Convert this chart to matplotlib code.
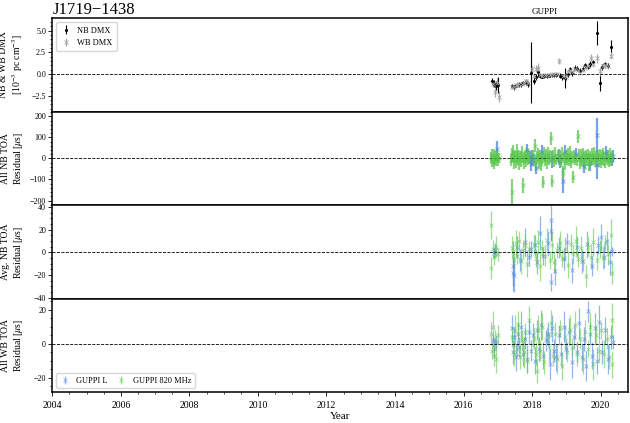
import numpy as np
import matplotlib
matplotlib.use('Agg')
import matplotlib.pyplot as plt
from matplotlib.ticker import MultipleLocator, AutoMinorLocator

plt.rcParams['font.family'] = ['Liberation Serif', 'DejaVu Serif']
plt.rcParams['mathtext.fontset'] = 'stix'

PSR = 'J1719\u22121438'

# --- DMX (1e-3 pc cm^-3) ---
nb_dmx_yr = [2016.84, 2016.89, 2016.95, 2017.01, 2017.41, 2017.46, 2017.51, 2017.56,
             2017.62, 2017.68, 2017.74, 2017.81, 2017.88, 2017.98, 2018.05, 2018.11,
             2018.16, 2018.22, 2018.29, 2018.36, 2018.43, 2018.50, 2018.57, 2018.64,
             2018.71, 2018.80, 2018.88, 2018.97, 2019.04, 2019.10, 2019.17, 2019.25,
             2019.32, 2019.40, 2019.48, 2019.55, 2019.62, 2019.70, 2019.77, 2019.88,
             2019.98, 2020.05, 2020.13, 2020.20, 2020.30]
nb_dmx = [-0.8, -1.1, -1.35, -1.25, -1.40, -1.55, -1.35, -1.30,
          -1.20, -1.20, -1.05, -0.95, -1.15, 0.15, -0.75, -0.35,
          0.2, -0.25, -0.3, -0.25, -0.25, -0.2, -0.15, -0.1,
          -0.1, -0.2, -0.35, -0.45, 0.05, 0.55, 0.1, 0.75,
          0.6, 0.35, 0.6, 1.0, 0.85, 1.15, 1.35, 4.7,
          -1.0, 0.8, 1.1, 0.95, 3.15]
nb_dmx_err = [0.35, 0.45, 0.55, 0.9, 0.25, 0.25, 0.25, 0.25,
              0.25, 0.25, 0.25, 0.35, 0.35, 3.5, 0.35, 0.35,
              0.6, 0.25, 0.2, 0.2, 0.2, 0.2, 0.2, 0.2,
              0.25, 0.3, 0.3, 1.2, 0.4, 0.3, 0.3, 0.3,
              0.3, 0.3, 0.3, 0.3, 0.3, 0.3, 0.3, 1.4,
              1.0, 0.3, 0.3, 0.3, 0.8]

wb_dmx_yr = [2016.85, 2016.91, 2016.97, 2017.02, 2017.42, 2017.47, 2017.52, 2017.57,
             2017.63, 2017.69, 2017.75, 2017.82, 2017.89, 2017.99, 2018.06, 2018.12,
             2018.17, 2018.23, 2018.30, 2018.37, 2018.44, 2018.51, 2018.58, 2018.65,
             2018.72, 2018.79, 2018.89, 2018.98, 2019.05, 2019.11, 2019.18, 2019.26,
             2019.33, 2019.41, 2019.49, 2019.56, 2019.63, 2019.71, 2019.78, 2019.89,
             2019.99, 2020.06, 2020.14, 2020.21, 2020.31]
wb_dmx = [-1.1, -2.1, -1.0, -2.6, -1.45, -1.5, -1.3, -1.25,
          -1.15, -1.15, -1.0, -0.85, -1.0, 0.55, -0.2, 0.6,
          0.75, -0.1, -0.2, -0.15, -0.15, -0.1, -0.05, -0.05,
          0.0, 1.5, -0.25, -0.3, 0.2, 0.45, 0.25, 0.6,
          0.5, 0.15, 0.5, 0.8, 0.95, 1.9, 1.1, 1.8,
          0.3, 0.95, 1.0, 0.9, 2.1]
wb_dmx_err = [0.4, 0.5, 0.5, 0.6, 0.2, 0.2, 0.2, 0.2,
              0.2, 0.2, 0.2, 0.3, 0.3, 0.5, 0.3, 0.4,
              0.5, 0.2, 0.2, 0.2, 0.2, 0.2, 0.2, 0.2,
              0.2, 0.4, 0.3, 0.5, 0.3, 0.3, 0.3, 0.3,
              0.3, 0.3, 0.3, 0.3, 0.3, 0.4, 0.3, 0.5,
              0.5, 0.3, 0.3, 0.3, 0.4]

# --- all NB TOA residuals (us) ---
nb_820_yr = [2016.80, 2016.82, 2016.84, 2016.86, 2016.88, 2016.90, 2016.92, 2016.95, 2016.98, 2017.01, 2017.04,
             2017.38, 2017.40, 2017.42, 2017.45, 2017.47, 2017.50, 2017.52, 2017.55, 2017.57, 2017.60, 2017.62,
             2017.65, 2017.67, 2017.70, 2017.72, 2017.75, 2017.77, 2017.80, 2017.82, 2017.85, 2017.88, 2017.91,
             2018.02, 2018.05, 2018.08, 2018.11, 2018.14, 2018.17, 2018.20, 2018.23, 2018.26, 2018.29, 2018.32,
             2018.35, 2018.38, 2018.41, 2018.44, 2018.47, 2018.50, 2018.53, 2018.56, 2018.59, 2018.62, 2018.65,
             2018.68, 2018.71, 2018.74,
             2018.80, 2018.83, 2018.86, 2018.89, 2018.92, 2018.95, 2018.98, 2019.01, 2019.04, 2019.07, 2019.10,
             2019.13, 2019.16, 2019.19, 2019.22, 2019.25,
             2019.30, 2019.33, 2019.36, 2019.39, 2019.42, 2019.45, 2019.48, 2019.51, 2019.54, 2019.57, 2019.60,
             2019.63, 2019.66, 2019.69, 2019.72, 2019.75, 2019.78, 2019.81, 2019.84, 2019.87,
             2019.93, 2019.96, 2019.99, 2020.02, 2020.05, 2020.08, 2020.11, 2020.14, 2020.17, 2020.20, 2020.23,
             2020.26, 2020.29, 2020.32]
nb_820 = [5, -12, 18, -3, 10, -20, 8, -6, 14, -9, 3,
          -8, -160, 15, 22, -5, 6, -14, 30, -5, 12, -22,
          9, -3, 18, -128, 4, -18, 11, -7, 25, -2, 8,
          10, -5, 60, -18, 7, 20, -10, 14, -25, 3, -112,
          17, -8, 12, -15, 25, -3, 9, 95, -108, 5, -12,
          18, -6, 11,
          8, -14, 20, -67, 5, -20, 12, -4, 16, -9, 22,
          -16, 6, -88, 10, -2,
          -6, 105, 14, -20, 9, -11, 24, 3, -17, 12, -4,
          19, -24, 7, -9, 15, -2, 21, -13, 5,
          12, -8, 18, -15, 6, 22, -3, -20, 10, 4, -12,
          16, -6, 8]
nb_820_err = [25, 30, 28, 22, 35, 30, 25, 28, 32, 26, 24,
              30, 60, 35, 40, 45, 28, 32, 38, 26, 30, 34,
              28, 36, 40, 35, 26, 33, 29, 35, 31, 27, 30,
              28, 32, 30, 35, 26, 30, 38, 28, 33, 29, 30,
              36, 27, 31, 34, 30, 28, 32, 30, 30, 33, 29,
              35, 27, 30,
              30, 28, 34, 30, 27, 35, 30, 29, 33, 28, 36,
              30, 27, 30, 32, 29,
              29, 30, 33, 28, 35, 30, 27, 32, 36, 29, 31,
              28, 34, 30, 27, 33, 29, 35, 30, 28,
              30, 34, 28, 31, 36, 29, 33, 27, 30, 35, 28,
              32, 30, 26]

nb_L_yr = [2016.97, 2017.93, 2017.96, 2017.99, 2018.02, 2018.30, 2018.58, 2018.77, 2018.80, 2018.89,
           2019.27, 2019.50, 2019.88, 2019.90, 2020.33, 2020.36, 2017.85, 2018.10, 2018.95, 2019.70, 2020.15]
nb_L = [45, 5, -25, 12, -8, 30, -5, 10, -15, -105,
        20, -35, 112, -30, -8, 10, 40, -45, 30, -20, 25]
nb_L_err = [40, 30, 35, 30, 28, 35, 40, 35, 30, 60,
            30, 35, 80, 70, 30, 28, 30, 30, 35, 40, 35]

# --- epoch-averaged NB residuals (us) ---
avg_820_yr = [2016.80, 2016.81, 2016.85, 2016.90, 2016.95, 2017.00,
              2017.42, 2017.47, 2017.52, 2017.57, 2017.62, 2017.68, 2017.74, 2017.80, 2017.86, 2017.92,
              2018.05, 2018.11, 2018.17, 2018.23, 2018.30, 2018.37, 2018.44, 2018.51, 2018.58, 2018.65, 2018.72,
              2018.80, 2018.88, 2018.97,
              2019.05, 2019.12, 2019.19, 2019.27, 2019.34, 2019.42, 2019.49, 2019.56, 2019.63, 2019.71, 2019.79,
              2019.88, 2019.98, 2020.06, 2020.14, 2020.22, 2020.31, 2020.32]
avg_820 = [24, -14, 3, -4, 5, -2,
           4, -6, 8, -3, 10, -8, 2, 6, -10, 3,
           7, -5, 9, -12, 4, -3, 11, -7, 6, -9, 2,
           8, -5, 3,
           -11, 7, -2, 10, -6, 4, -8, -21, 5, -4, 9,
           -7, 3, -5, 8, -2, 15, -18]
avg_820_err = [12, 10, 8, 7, 9, 6,
               10, 8, 12, 7, 9, 11, 8, 10, 12, 7,
               9, 8, 11, 13, 7, 9, 10, 8, 12, 9, 7,
               11, 8, 10,
               12, 9, 8, 13, 7, 10, 9, 10, 8, 11, 12,
               9, 8, 10, 7, 9, 14, 10]

avg_L_yr = [2016.88, 2016.93,
            2017.43, 2017.44, 2017.48, 2017.55, 2017.65, 2017.78, 2017.90, 2017.97,
            2018.08, 2018.15, 2018.23, 2018.33, 2018.47, 2018.54, 2018.55, 2018.56, 2018.68, 2018.77, 2018.92,
            2019.01, 2019.15, 2019.30, 2019.45, 2019.60, 2019.75, 2019.92,
            2020.00, 2020.10, 2020.18, 2020.26, 2020.34]
avg_L = [0, 2,
         -12, -18, -20, 5, -7, 9, -4, 3,
         6, -9, 17, -3, 8, 28, 19, -26, -17, 4, -6,
         9, -16, 5, -8, 7, -12, 6,
         13, -4, 10, -9, 1]
avg_L_err = [5, 6,
             22, 12, 15, 9, 10, 12, 8, 7,
             9, 10, 15, 8, 11, 18, 8, 8, 12, 9, 10,
             8, 11, 9, 10, 12, 9, 8,
             12, 10, 9, 11, 4]

# --- all WB residuals (us) ---
wb_820_yr = [2016.80, 2016.82, 2016.85, 2016.88, 2016.92, 2016.96, 2017.00,
             2017.42, 2017.46, 2017.50, 2017.55, 2017.60, 2017.65, 2017.70, 2017.75, 2017.80, 2017.86, 2017.92,
             2018.05, 2018.10, 2018.13, 2018.18, 2018.24, 2018.30, 2018.36, 2018.42, 2018.48, 2018.54, 2018.60,
             2018.66, 2018.72, 2018.80, 2018.87, 2018.95,
             2019.03, 2019.10, 2019.17, 2019.25, 2019.32, 2019.40, 2019.48, 2019.55, 2019.63, 2019.70, 2019.78,
             2019.86, 2019.94, 2020.02, 2020.10, 2020.18, 2020.25, 2020.32, 2020.33]
wb_820 = [6, -4, 10, -7, 3, -9, 5,
          4, -6, 8, -3, 11, -8, 2, -5, 7, -10, 14,
          3, -6, -16, 8, -4, 10, -11, 5, -2, 12, -7,
          6, -9, 9, -13, 4,
          -5, 8, -2, 11, -6, 3, -9, 7, -3, 10, -12,
          5, -4, 8, -6, 3, -8, 14, -12]
wb_820_err = [7, 5, 9, 6, 5, 8, 6,
              6, 7, 9, 5, 8, 7, 6, 9, 5, 7, 8,
              6, 7, 7, 9, 6, 8, 7, 5, 9, 8, 6,
              7, 9, 5, 8, 7,
              6, 9, 5, 8, 7, 6, 9, 7, 5, 8, 9,
              6, 7, 5, 8, 6, 7, 10, 8]

wb_L_yr = [2016.86, 2016.90, 2016.94,
           2017.40, 2017.44, 2017.48, 2017.53, 2017.58, 2017.63, 2017.68, 2017.73, 2017.78, 2017.84, 2017.90, 2017.96,
           2018.03, 2018.08, 2018.15, 2018.21, 2018.27, 2018.33, 2018.39, 2018.45, 2018.51, 2018.57, 2018.63,
           2018.71, 2018.78, 2018.85, 2018.92,
           2019.00, 2019.08, 2019.15, 2019.22, 2019.30, 2019.38, 2019.45, 2019.52, 2019.58, 2019.63, 2019.68,
           2019.75, 2019.82, 2019.89, 2019.96,
           2020.05, 2020.13, 2020.21, 2020.29, 2020.35]
wb_L = [2, -3, 1,
        9, -5, 4, -8, 6, -2, 10, -6, 3, -9, 7, -4,
        5, -10, 8, -3, 11, -7, 2, 6, -12, 9, -4, -8, 5, -6, 10,
        -3, 7, -11, 4, -5, 12, -8, 3, -13, 19, 6, -7, 9, -10, 13,
        -5, 8, -9, 4, 1]
wb_L_err = [4, 5, 4,
            8, 7, 6, 8, 7, 6, 9, 7, 6, 8, 7, 6,
            7, 8, 6, 7, 9, 8, 6, 7, 9, 8, 7, 8, 6, 7, 9,
            6, 8, 9, 7, 6, 9, 8, 7, 9, 6, 7, 8, 9, 8, 10,
            7, 8, 9, 7, 4]

C_L = '#4f82e3'
C_820 = '#5cc94f'

fig, axs = plt.subplots(4, 1, figsize=(6.3, 4.23), dpi=100, sharex=True)
fig.subplots_adjust(left=0.083, right=0.997, top=0.957, bottom=0.073, hspace=0)

eb = dict(fmt='x', ms=2.5, mew=0.6, elinewidth=0.9, capsize=0, alpha=0.6)
eb_dense = dict(fmt='x', ms=2.5, mew=0.6, elinewidth=1.6, capsize=0, alpha=0.75)

ax = axs[0]
ax.errorbar(nb_dmx_yr, nb_dmx, yerr=nb_dmx_err, fmt='.', ms=2.5, color='k',
            elinewidth=0.8, capsize=0, label='NB DMX')
ax.errorbar(wb_dmx_yr, wb_dmx, yerr=wb_dmx_err, fmt='x', ms=2.5, mew=0.6, color='0.65',
            elinewidth=0.8, capsize=0, label='WB DMX')
ax.set_ylim(-4.35, 6.45)
ax.yaxis.set_major_locator(MultipleLocator(2.5))
ax.set_ylabel('NB & WB DMX\n[10$^{-3}$ pc cm$^{-3}$]', fontsize=7)
ax.legend(loc='upper left', fontsize=6, handlelength=1.2, borderpad=0.5)
ax.set_title(PSR, loc='left', fontsize=12, pad=2)
ax.text(0.855, 1.04, 'GUPPI', transform=ax.transAxes, fontsize=6.5, ha='center')

ax = axs[1]
ax.errorbar(nb_L_yr, nb_L, yerr=nb_L_err, color=C_L, **eb_dense)
ax.errorbar(nb_820_yr, nb_820, yerr=nb_820_err, color=C_820, **eb_dense)
ax.set_ylim(-222, 222)
ax.yaxis.set_major_locator(MultipleLocator(100))
ax.set_ylabel('All NB TOA\nResidual [$\\mu$s]', fontsize=7)

ax = axs[2]
ax.errorbar(avg_L_yr, avg_L, yerr=avg_L_err, color=C_L, **eb)
ax.errorbar(avg_820_yr, avg_820, yerr=avg_820_err, color=C_820, **eb)
ax.set_ylim(-41, 41.5)
ax.yaxis.set_major_locator(MultipleLocator(20))
ax.set_ylabel('Avg. NB TOA\nResidual [$\\mu$s]', fontsize=7)

ax = axs[3]
ax.errorbar(wb_L_yr, wb_L, yerr=wb_L_err, color=C_L, label='GUPPI L', **eb)
ax.errorbar(wb_820_yr, wb_820, yerr=wb_820_err, color=C_820, label='GUPPI 820 MHz', **eb)
ax.set_ylim(-28.4, 26.5)
ax.yaxis.set_major_locator(MultipleLocator(20))
ax.set_ylabel('All WB TOA\nResidual [$\\mu$s]', fontsize=7)
ax.legend(loc='lower left', ncol=2, fontsize=6, handlelength=1.2, columnspacing=1.0)
ax.set_xlabel('Year', fontsize=8, labelpad=1)

for ax in axs:
    ax.axhline(0, color='k', ls='--', lw=0.6)
    ax.yaxis.set_minor_locator(AutoMinorLocator())
    ax.xaxis.set_major_locator(MultipleLocator(2))
    ax.xaxis.set_minor_locator(MultipleLocator(0.5))
    ax.tick_params(axis='y', which='major', labelsize=5.8, length=3, width=0.6, pad=1.5)
    ax.tick_params(axis='y', which='minor', length=1.5, width=0.5)
    ax.tick_params(axis='x', which='major', labelsize=7, length=3, width=0.6)
    ax.tick_params(axis='x', which='minor', length=1.5, width=0.5)
    for s in ax.spines.values():
        s.set_linewidth(1.1)
    ax.yaxis.set_label_coords(-0.048, 0.5)
axs[-1].set_xlim(2004.0, 2020.8)

fig.savefig('out.png', dpi=100)
